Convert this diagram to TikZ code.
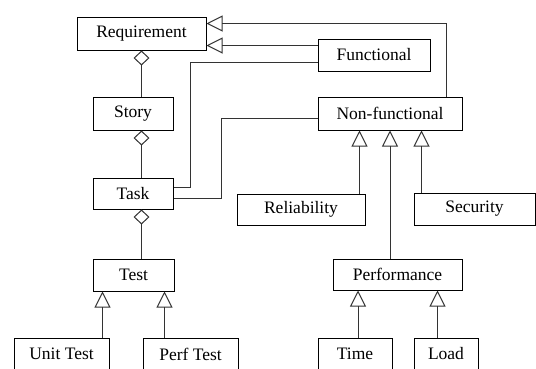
\documentclass[tikz,border=0pt]{standalone}
\usepackage{fontspec}
\setmainfont{Liberation Serif}
\newfontfamily\boxfont{Liberation Serif}
\usetikzlibrary{arrows.meta}

\begin{document}
\begin{tikzpicture}[x=1pt, y=-1pt, line width=1pt,
    box/.style={draw, rectangle, minimum height=32pt, inner sep=0pt, font=\boxfont\fontsize{17.5}{20}\selectfont},
    inherits/.style={-{Triangle[open, length=16pt, width=16pt]}, draw=black!80},
    partof/.style={-{Diamond[open, length=15pt, width=16pt]}, draw=black!80},
    assoc/.style={draw=black!80}]
  \useasboundingbox (0,0) rectangle (536,368);

  \node[box, minimum width=129pt, minimum height=33pt] (requirement) at (141.5,33.5) {Requirement};
  \node[box, minimum width=112pt] (functional) at (374,55) {Functional};
  \node[box, minimum width=80pt, minimum height=33pt] (story) at (133,113.5) {Story};
  \node[box, minimum width=144pt, minimum height=33pt] (nonfunctional) at (390,113.5) {Non-functional};
  \node[box, minimum width=80pt, minimum height=31pt] (task) at (133,193.5) {Task};
  \node[box, minimum width=128pt, minimum height=31pt] (reliability) at (301,209.5) {Reliability};
  \node[box, minimum width=121pt] (security) at (474.5,209) {Security};
  \node[box, minimum width=81pt] (test) at (133.5,275) {Test};
  \node[box, minimum width=129pt, minimum height=31pt] (performance) at (397.5,274.5) {Performance};
  \node[box, minimum width=95pt] (unittest) at (61.5,354) {Unit Test};
  \node[box, minimum width=95pt] (perftest) at (190.5,354) {Perf Test};
  \node[box, minimum width=74pt] (time) at (355,354) {Time};
  \node[box, minimum width=64pt] (load) at (446,354) {Load};

  % attachment points of the lines
  \coordinate (reqtop) at ([yshift=-7pt]requirement.north east);
  \coordinate (nfup) at ([xshift=-16pt]nonfunctional.north east);
  \coordinate (funcin) at ([yshift=-7pt]functional.north west);
  \coordinate (funcout) at ([yshift=9pt]functional.south west);
  \coordinate (nfout) at ([yshift=-4.5pt]nonfunctional.west);
  \coordinate (taskf) at ([yshift=-10pt]task.north east);
  \coordinate (tasknf) at ([yshift=11pt]task.south east);
  \coordinate (unitup) at ([xshift=-7pt]unittest.north east);
  \coordinate (perfup) at ([xshift=22pt]perftest.north west);
  \coordinate (relup) at ([xshift=-6pt]reliability.north east);
  \coordinate (secup) at ([xshift=8pt]security.north west);
  \coordinate (timeup) at ([xshift=3pt]time.north);
  \coordinate (loadup) at ([xshift=24pt]load.north west);

  \draw[partof] (story.north -| requirement.south) -- (requirement.south);
  \draw[partof] (task.north -| requirement.south) -- (story.south -| requirement.south);
  \draw[partof] (test.north -| requirement.south) -- (task.south -| requirement.south);

  \draw[inherits] (nfup) |- (reqtop);
  \draw[inherits] (funcin) -- (funcin -| requirement.east);

  \draw[assoc] (taskf) -- ++(17,0) |- (funcout);
  \draw[assoc] (tasknf) -- ++(48,0) |- (nfout);

  \draw[inherits] (relup) -- (relup |- nonfunctional.south);
  \draw[inherits] (performance.north -| nonfunctional.south) -- (nonfunctional.south);
  \draw[inherits] (secup) -- (secup |- nonfunctional.south);

  \draw[inherits] (unitup) -- (unitup |- test.south);
  \draw[inherits] (perfup) -- (perfup |- test.south);

  \draw[inherits] (timeup) -- (timeup |- performance.south);
  \draw[inherits] (loadup) -- (loadup |- performance.south);
\end{tikzpicture}
\end{document}
